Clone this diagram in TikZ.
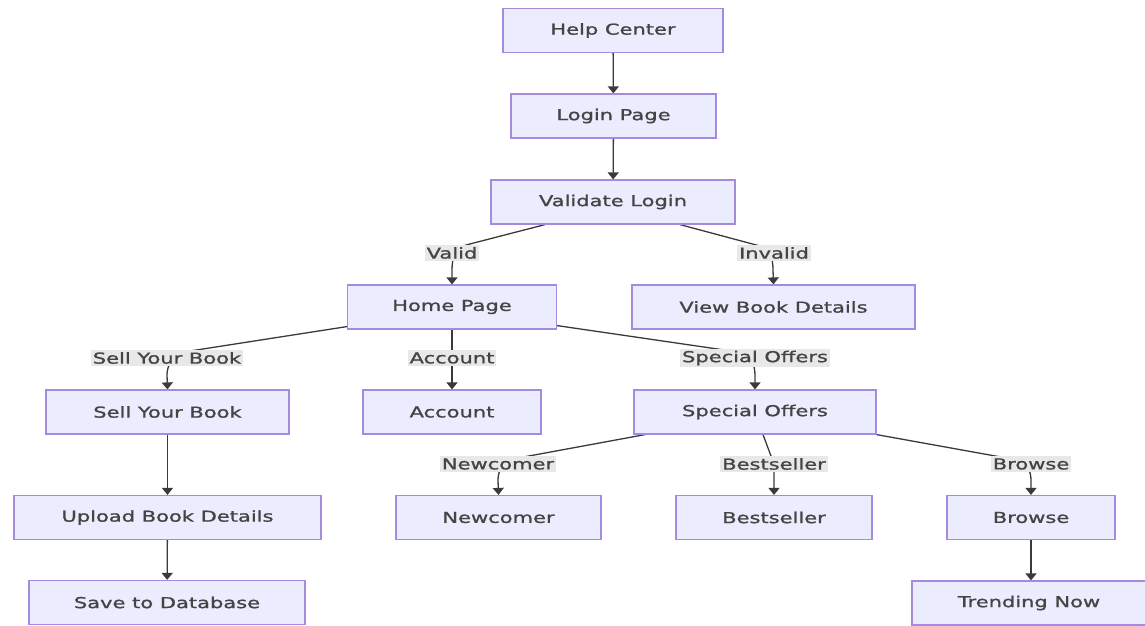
\documentclass[tikz,border=0pt]{standalone}
\usepackage{fontspec}
\setmainfont{DejaVu Sans}[FakeStretch=1.4,FakeBold=1.2]
\usetikzlibrary{arrows.meta}
\definecolor{nodefill}{HTML}{ECECFF}
\definecolor{nodeline}{HTML}{A48BE0}
\definecolor{edgec}{HTML}{3A3A3A}
\definecolor{lblbg}{HTML}{E8E8E8}
\definecolor{txt}{HTML}{444444}
\pgfdeclarelayer{bg}
\pgfsetlayers{bg,main}
\tikzset{
  box/.style={draw=nodeline, fill=nodefill, line width=1.2pt, minimum height=44pt,
    inner sep=0pt, text=txt, font=\fontsize{15}{18}\selectfont},
  lbl/.style={fill=lblbg, inner xsep=2pt, inner ysep=2pt, text=txt,
    font=\fontsize{15}{18}\selectfont},
  edge/.style={draw=edgec, line width=1.3pt, -{Triangle[width=11pt,length=7pt]}},
}
\begin{document}
\begin{tikzpicture}[x=1pt,y=-1pt]
\useasboundingbox (0,0) rectangle (1145,626);
% nodes
\node[box, minimum width=220pt] (hc) at (613,30.5) {Help Center};
\node[box, minimum width=205pt] (lp) at (613.5,116) {Login Page};
\node[box, minimum width=244pt] (vl) at (613,202) {Validate Login};
\node[box, minimum width=209pt] (hp) at (452,307) {Home Page};
\node[box, minimum width=283pt] (vbd) at (773.5,307) {View Book Details};
\node[box, minimum width=243pt] (sb) at (167.5,412) {Sell Your Book};
\node[box, minimum width=178pt] (acc) at (452,412) {Account};
\node[box, minimum width=242pt] (so) at (755,412) {Special Offers};
\node[box, minimum width=307pt] (ub) at (167.5,517.5) {Upload Book Details};
\node[box, minimum width=205pt] (nc) at (498.5,517.5) {Newcomer};
\node[box, minimum width=196pt] (bs) at (774,517.5) {Bestseller};
\node[box, minimum width=168pt] (br) at (1031,517.5) {Browse};
\node[box, minimum width=276pt] (sd) at (167,602.5) {Save to Database};
\node[box, minimum width=234pt] (tn) at (1029,603) {Trending Now};
% labels
\node[lbl] (lvalid) at (452,253) {Valid};
\node[lbl] (linvalid) at (774,253) {Invalid};
\node[lbl] (lsell) at (167,358) {Sell Your Book};
\node[lbl] (lacc) at (452,358) {Account};
\node[lbl] (lspec) at (755,358) {Special Offers};
\node[lbl] (lnew) at (498,464) {Newcomer};
\node[lbl] (lbest) at (774,464) {Bestseller};
\node[lbl] (lbrow) at (1031,464) {Browse};
% edges
\begin{pgfonlayer}{bg}
\draw[edge] (hc) -- (lp);
\draw[edge] (lp) -- (vl);
\draw[edge] ([xshift=-68pt]vl.south) -- (466,245) .. controls (455,249) and (452,258) .. (452,270) -- (hp.north);
\draw[edge] ([xshift=67pt]vl.south) -- (760,246) .. controls (770,249) and (773,258) .. (773,270) -- (vbd.north);
\draw[edge] ([yshift=3pt]hp.south west) -- (190,351) .. controls (172,356) and (167,365) .. (167,375) -- (sb.north);
\draw[edge] (hp.south) -- (acc.north);
\draw[edge] ([yshift=4pt]hp.south east) -- (738,352) .. controls (750,356) and (755,363) .. (755,375) -- (so.north);
\draw[edge] ([xshift=-110pt]so.south) -- (518,458) .. controls (503,462) and (498,470) .. (498,480) -- (nc.north);
\draw[edge] ([xshift=8pt]so.south) -- (771,456) .. controls (773,462) and (774,466) .. (774,475) -- (bs.north);
\draw[edge] (so.south east) -- (1012,459) .. controls (1026,462) and (1031,470) .. (1031,480) -- (br.north);
\draw[edge] (sb) -- (ub);
\draw[edge] (ub) -- (sd);
\draw[edge] (br) -- (br |- tn.north);
\end{pgfonlayer}
\end{tikzpicture}
\end{document}
